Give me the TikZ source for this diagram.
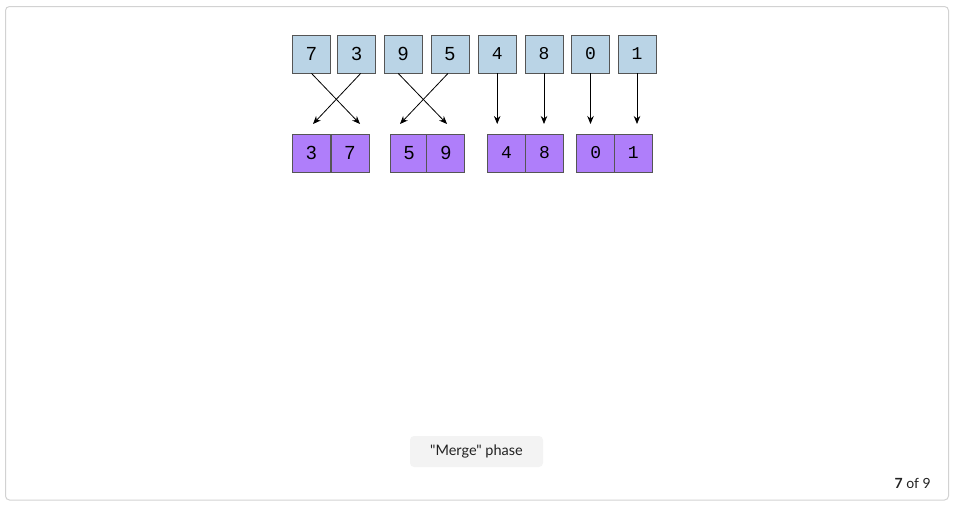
\documentclass[tikz,border=0pt]{standalone}
\usepackage{fontspec}
\setmainfont{Lato}
\newfontfamily\capfont{Lato}
\newfontfamily\cellsans{Liberation Sans}
\newfontfamily\cellmono{Liberation Mono}
\usetikzlibrary{arrows.meta}
\definecolor{frameline}{HTML}{D2D2D2}
\definecolor{inblue}{HTML}{BAD4E6}
\definecolor{outpurple}{HTML}{AF7EFA}
\definecolor{cellline}{HTML}{555555}
\definecolor{captionbg}{HTML}{F3F3F3}
\definecolor{captiontext}{HTML}{222222}
\newcommand{\sd}[1]{{\cellsans\fontsize{19}{19}\selectfont #1}}
\newcommand{\md}[1]{{\cellmono\fontsize{18}{18}\selectfont #1}}
\tikzset{
  cell/.style={draw=cellline, line width=0.8pt, minimum width=38pt, minimum height=38pt,
    inner sep=0pt, text=black},
  incell/.style={cell, fill=inblue},
  outcell/.style={cell, fill=outpurple},
  link/.style={line width=0.8pt, draw=black, -{Stealth[length=8pt,width=6.5pt]}},
}
\begin{document}
\begin{tikzpicture}[x=1pt,y=-1pt]
  \useasboundingbox (0,0) rectangle (955,506);
  % outer frame
  \draw[frameline, line width=1pt, rounded corners=4pt] (5.5,6.5) rectangle (948.5,500);

  % input row
  \node[incell] (t1) at (311.5,54) {\sd{7}};
  \node[incell] (t2) at (356.7,54) {\sd{3}};
  \node[incell] (t3) at (403.2,54) {\sd{9}};
  \node[incell] (t4) at (450,54) {\sd{5}};
  \node[incell] (t5) at (497.2,54) {\md{4}};
  \node[incell] (t6) at (544,54) {\md{8}};
  \node[incell] (t7) at (590.5,54) {\md{0}};
  \node[incell] (t8) at (637,54) {\md{1}};

  % merged pairs
  \node[outcell] (b1) at (311.5,153) {\sd{3}};
  \node[outcell] (b2) at (349.9,153) {\sd{7}};
  \node[outcell] (b3) at (409.2,153) {\sd{5}};
  \node[outcell] (b4) at (445.8,153) {\sd{9}};
  \node[outcell] (b5) at (506.5,153) {\md{4}};
  \node[outcell] (b6) at (544.5,153) {\md{8}};
  \node[outcell] (b7) at (595.8,153) {\md{0}};
  \node[outcell] (b8) at (633.3,153) {\md{1}};

  % arrow ends just above the merged pairs
  \coordinate (e1) at (360,124);
  \coordinate (e2) at (313,124);
  \coordinate (e3) at (447,124);
  \coordinate (e4) at (400,124);
  \coordinate (e5) at (497.2,124);
  \coordinate (e6) at (544,124);
  \coordinate (e7) at (590.5,124);
  \coordinate (e8) at (637,124);

  \draw[link] (t1.south) -- (e1);
  \draw[link] ([xshift=4pt]t2.south) -- (e2);
  \draw[link] ([xshift=-5pt]t3.south) -- (e3);
  \draw[link] ([xshift=-2pt]t4.south) -- (e4);
  \draw[link] (t5.south) -- (e5);
  \draw[link] (t6.south) -- (e6);
  \draw[link] (t7.south) -- (e7);
  \draw[link] (t8.south) -- (e8);

  % caption and counter
  \node[fill=captionbg, rounded corners=4pt, minimum width=133pt, minimum height=31pt,
        inner sep=0pt, text=captiontext, font=\capfont\fontsize{14.5}{14.5}\selectfont]
        (caption) at (476.5,451.5) {"Merge" phase};
  \node[anchor=east, inner sep=0pt, text=captiontext, font=\fontsize{14}{14}\selectfont]
        (counter) at (931,483) {\textbf{7} of 9};
\end{tikzpicture}
\end{document}
